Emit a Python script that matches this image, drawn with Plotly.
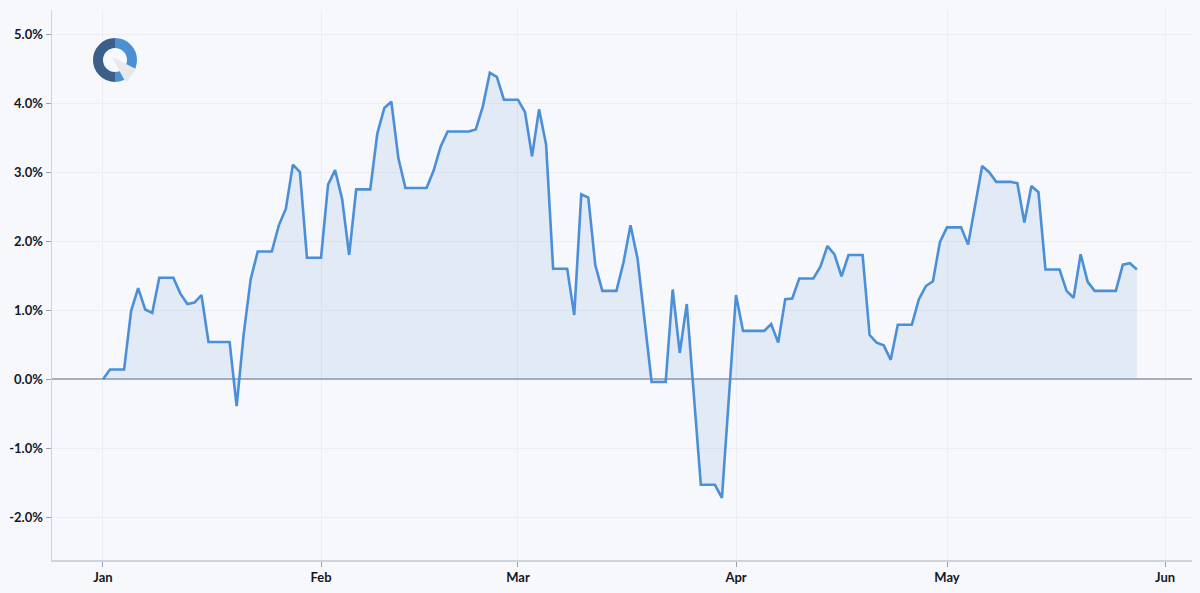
import pandas as pd
import plotly.graph_objects as go

start = "2026-01-01"
# daily cumulative return (%), Jan 1 .. May 28
values = [
    0.00, 0.14, 0.14, 0.14, 0.99, 1.32, 1.01, 0.96, 1.47, 1.47,
    1.47, 1.24, 1.09, 1.11, 1.22, 0.54, 0.54, 0.54, 0.54, -0.39,
    0.65, 1.45, 1.85, 1.85, 1.85, 2.23, 2.47, 3.11, 3.00, 1.76,
    1.76, 1.76, 2.82, 3.03, 2.61, 1.80, 2.75, 2.75, 2.75, 3.56,
    3.93, 4.02, 3.20, 2.77, 2.77, 2.77, 2.77, 3.02, 3.37, 3.59,
    3.59, 3.59, 3.59, 3.62, 3.95, 4.44, 4.38, 4.05, 4.05, 4.05,
    3.87, 3.23, 3.91, 3.40, 1.60, 1.60, 1.60, 0.93, 2.68, 2.63,
    1.65, 1.28, 1.28, 1.28, 1.69, 2.23, 1.75, 0.85, -0.04, -0.04,
    -0.04, 1.30, 0.38, 1.09, -0.22, -1.53, -1.53, -1.53, -1.72, -0.25,
    1.22, 0.70, 0.70, 0.70, 0.70, 0.80, 0.53, 1.16, 1.17, 1.46,
    1.46, 1.46, 1.63, 1.93, 1.81, 1.49, 1.80, 1.80, 1.80, 0.64,
    0.53, 0.49, 0.28, 0.79, 0.79, 0.79, 1.16, 1.35, 1.42, 1.99,
    2.20, 2.20, 2.20, 1.95, 2.52, 3.09, 3.00, 2.86, 2.86, 2.86,
    2.84, 2.27, 2.80, 2.71, 1.59, 1.59, 1.59, 1.28, 1.18, 1.81,
    1.41, 1.28, 1.28, 1.28, 1.28, 1.66, 1.68, 1.59,
]
dates = pd.date_range(start, periods=len(values), freq="D")

y_ticks = [-2, -1, 0, 1, 2, 3, 4, 5]
y_tick_text = ["-2.0%", "-1.0%", "0.0%", "1.0%", "2.0%", "3.0%", "4.0%", "5.0%"]
x_ticks = ["2026-01-01", "2026-02-01", "2026-03-01", "2026-04-01", "2026-05-01", "2026-06-01"]
x_tick_text = ["Jan", "Feb", "Mar", "Apr", "May", "Jun"]

fig = go.Figure()
fig.add_trace(go.Scatter(
    x=dates, y=values, mode="lines",
    line=dict(color="#4a8fd8", width=2.6),
    fill="tozeroy", fillcolor="rgba(74,143,216,0.12)",
    hoverinfo="skip", showlegend=False,
))

W, H = 1200, 593
L, T, R, B = 52, 10, 8, 33
font_family = "Lato, 'Open Sans', sans-serif"
fig.update_layout(
    width=W, height=H,
    margin=dict(l=L, r=R, t=T, b=B, autoexpand=False),
    paper_bgcolor="#f7f8fb", plot_bgcolor="#f7f8fb",
    font=dict(family=font_family, size=13, color="#15171f"),
    xaxis=dict(
        range=["2025-12-24 18:00", "2026-06-04 20:00"],
        tickvals=x_ticks, ticktext=x_tick_text,
        showgrid=True, gridcolor="#eceef3", gridwidth=1,
        showline=True, linecolor="#cfd3da", linewidth=1.5,
        ticks="outside", ticklen=5, tickcolor="#9aa0aa",
        tickfont=dict(size=13, color="#15171f", weight="bold"),
        zeroline=False,
    ),
    yaxis=dict(
        range=[-2.62, 5.35],
        tickvals=y_ticks, ticktext=y_tick_text,
        showgrid=True, gridcolor="#eceef3", gridwidth=1,
        showline=True, linecolor="#cfd3da", linewidth=1.5,
        ticks="outside", ticklen=5, tickcolor="#9aa0aa",
        tickfont=dict(size=13, color="#15171f", weight="bold"),
        zeroline=True, zerolinecolor="#aab0bb", zerolinewidth=1.5,
    ),
)

# logo (decoration)
pw, ph = W - L - R, H - T - B
lx, ly = (115 - L) / pw, (H - B - 60) / ph
k = 9.39
left_half = f"M 0,17 C {-k},17 -17,{k} -17,0 C -17,{-k} {-k},-17 0,-17"
right_half = f"M 0,-17 C {k},-17 17,{-k} 17,0 C 17,{k} {k},17 0,17"
for p, c in [(left_half, "#3b5f88"), (right_half, "#4a90d2")]:
    fig.add_shape(type="path", xref="paper", yref="paper", xsizemode="pixel", ysizemode="pixel",
                  xanchor=lx, yanchor=ly, path=p,
                  line=dict(color=c, width=10), layer="above")
fig.add_shape(type="path", xref="paper", yref="paper", xsizemode="pixel", ysizemode="pixel",
              xanchor=lx, yanchor=ly,
              path="M -3,3 L 21,-9 L 11,-23 Z",
              line=dict(width=0), fillcolor="#e9e9ed", layer="above")

fig.write_html(
    "out.html",
    config={"displayModeBar": False, "staticPlot": True},
    post_script="document.body.style.margin='0';document.body.style.background='#f7f8fb';",
)
